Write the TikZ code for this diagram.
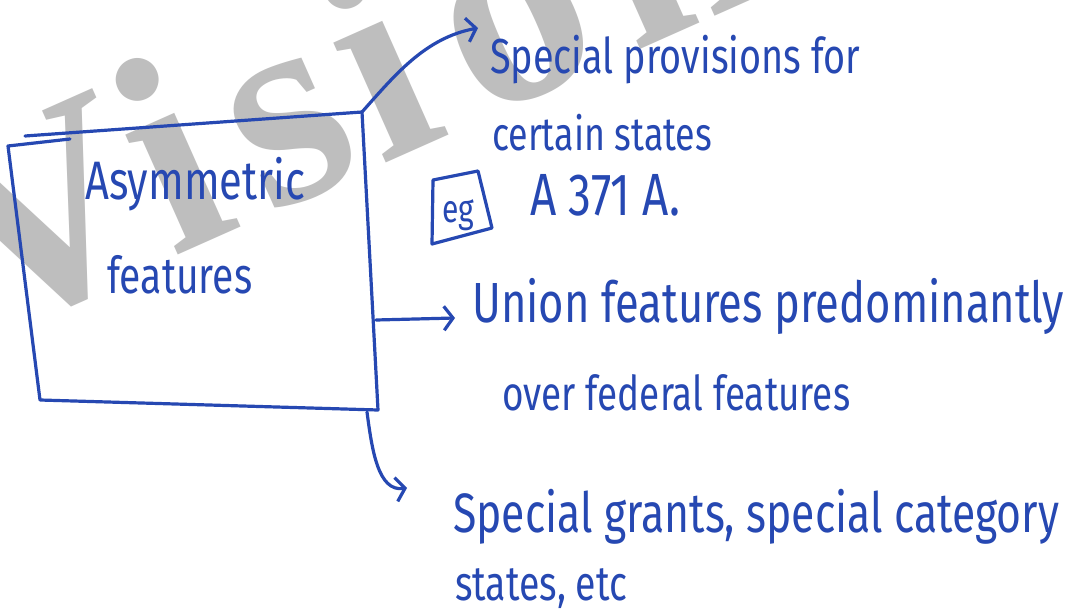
\documentclass[tikz,border=0pt]{standalone}
\usepackage{fontspec}
\setmainfont{Fira Sans}
\newfontfamily\wmfont{Liberation Serif}
\usetikzlibrary{arrows.meta}
\definecolor{ink}{RGB}{38,72,178}
\definecolor{wmgray}{RGB}{190,190,190}
\newcommand\fitw[2]{\resizebox{#1pt}{!}{\scalebox{1}[1.3]{#2}}}
\begin{document}
\begin{tikzpicture}[x=1pt,y=-1pt,
  inkline/.style={draw=ink, line width=3.2pt, line cap=round, line join=round},
  hw/.style={text=ink, inner sep=0pt, anchor=base west, font=\fontsize{40}{40}\selectfont},
  barb/.style={-{Straight Barb[length=9pt,width=24pt,line width=3.2pt]}},
  watermark/.style={text=wmgray, inner sep=0pt, anchor=base west, rotate=24, font=\wmfont\bfseries\fontsize{285}{285}\selectfont}]
\useasboundingbox (0,0) rectangle (1076,615);
\fill[white] (0,0) rectangle (1076,615);
\begin{scope}
  \clip (0,0) rectangle (1076,615);
  \node[watermark] (wm) at (-17,342) {V\kern2pt i\kern25pt s\kern12pt i\kern30pt o\kern25pt nIAS};
\end{scope}
% box corners
\coordinate (tl) at (8,146);
\coordinate (tl2) at (25,136);
\coordinate (tr) at (362,112);
\coordinate (br) at (378,410);
\coordinate (bl) at (40,400);
\coordinate (side) at (376,320);
\coordinate (bot) at (367,412);
\draw[inkline] (tl2) -- (tr) -- (br) -- (bl) -- (tl) -- (70,139);
% texts
\node[hw] (asym) at (85,200) {\fitw{220}{Asymmetric}};
\node[hw] (feat) at (107,293) {\fitw{145}{features}};
\node[hw] (sp1) at (490,74) {\fitw{370}{Special provisions for}};
\node[hw] (sp2) at (492,150) {\fitw{220}{certain states}};
\node[hw] (eg) at (442,222) {\fitw{32}{eg}};
\node[hw] (art) at (530,215) {\fitw{150}{A 371 A.}};
\node[hw] (un1) at (472,322) {\fitw{592}{Union features predominantly}};
\node[hw] (un2) at (502,410) {\fitw{348}{over federal features}};
\node[hw] (sg1) at (453,532) {\fitw{606}{Special grants, special category}};
\node[hw] (sg2) at (455,600) {\fitw{172}{states, etc}};
% eg box
\draw[inkline] (433,180) -- (478,171) -- (492,228) -- (432,244) -- cycle;
% arrows
\coordinate (e1) at (478,28);
\coordinate (e2) at (455,318);
\coordinate (e3) at (407,488);
\draw[inkline, barb] (tr) .. controls (395,75) and (425,38) .. (e1);
\draw[inkline, barb] (side) -- (e2);
\draw[inkline, barb] (bot) .. controls (372,450) and (378,492) .. (e3);
\end{tikzpicture}
\end{document}
